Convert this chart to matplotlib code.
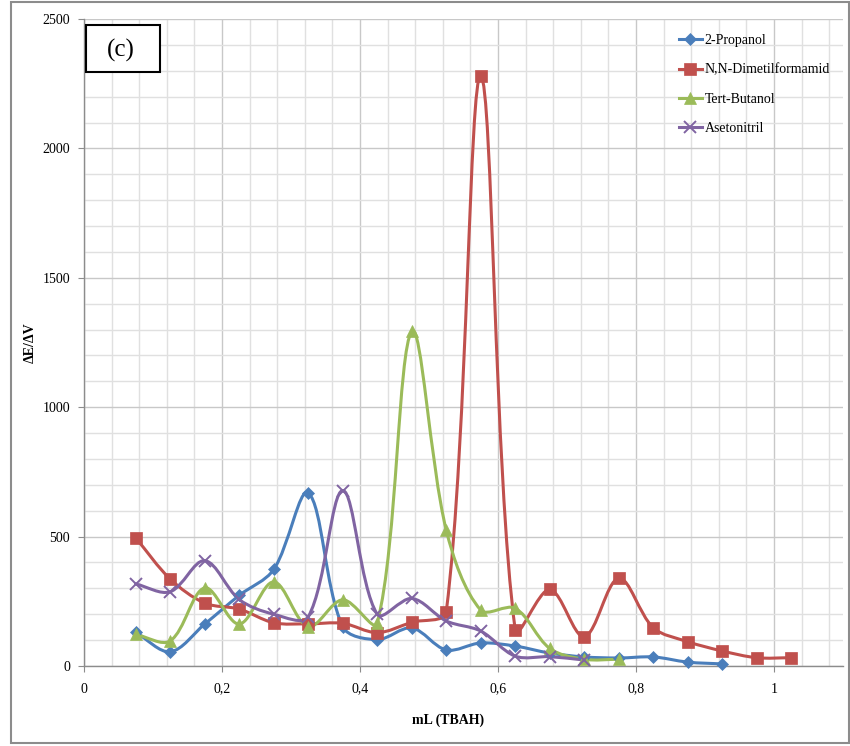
import matplotlib
matplotlib.use("Agg")
import matplotlib.pyplot as plt
import numpy as np
from matplotlib.path import Path
from matplotlib.patches import PathPatch, Rectangle
from matplotlib.lines import Line2D
from matplotlib.ticker import MultipleLocator, FuncFormatter

plt.rcParams.update({
    'font.family': 'serif',
    'font.serif': ['Liberation Serif', 'DejaVu Serif'],
    'font.size': 10,
})

# Values (ΔE/ΔV vs mL TBAH)
x_propanol = [0.075, 0.125, 0.175, 0.225, 0.275, 0.325, 0.375, 0.425, 0.475,
              0.525, 0.575, 0.625, 0.675, 0.725, 0.775, 0.825, 0.875, 0.925]
y_propanol = [130, 55, 162, 273, 373, 669, 152, 102, 147,
              62, 89, 77, 50, 35, 31, 35, 15, 8]

x_dmf = [0.075, 0.125, 0.175, 0.225, 0.275, 0.325, 0.375, 0.425, 0.475, 0.525,
         0.575, 0.625, 0.675, 0.725, 0.775, 0.825, 0.875, 0.925, 0.975, 1.025]
y_dmf = [495, 336, 243, 220, 167, 163, 165, 129, 169, 210,
         2280, 139, 296, 113, 339, 148, 94, 58, 32, 32]

x_tbut = [0.075, 0.125, 0.175, 0.225, 0.275, 0.325, 0.375, 0.425, 0.475,
          0.525, 0.575, 0.625, 0.675, 0.725, 0.775]
y_tbut = [122, 97, 302, 162, 325, 152, 256, 165, 1293,
          525, 216, 223, 68, 26, 26]

x_aset = [0.075, 0.125, 0.175, 0.225, 0.275, 0.325, 0.375, 0.425, 0.475,
          0.525, 0.575, 0.625, 0.675, 0.725]
y_aset = [317, 287, 407, 257, 200, 190, 678, 200, 261,
          174, 135, 38, 36, 23]

SERIES = [
    ('2-Propanol', x_propanol, y_propanol, '#4A7EBB', 'D', 6.5),
    ('N,N-Dimetilformamid', x_dmf, y_dmf, '#C0504D', 's', 8.5),
    ('Tert-Butanol', x_tbut, y_tbut, '#9BBB59', '^', 8.5),
    ('Asetonitril', x_aset, y_aset, '#8064A2', 'x', 8),
]


def smooth_path(ax, xs, ys, tension=1 / 6):
    # Excel-like smoothed line: cubic Bezier segments, control points
    # scaled by neighbouring segment lengths (in display space)
    pts = ax.transData.transform(np.column_stack([xs, ys]))
    n = len(pts)
    verts = [pts[0]]
    codes = [Path.MOVETO]
    for i in range(n - 1):
        p0 = pts[max(i - 1, 0)]
        p1 = pts[i]
        p2 = pts[i + 1]
        p3 = pts[min(i + 2, n - 1)]
        d01 = np.hypot(*(p1 - p0))
        d12 = np.hypot(*(p2 - p1))
        d23 = np.hypot(*(p3 - p2))
        f1 = 2 * tension * d12 / (d01 + d12) if d01 + d12 > 0 else 0
        f2 = 2 * tension * d12 / (d12 + d23) if d12 + d23 > 0 else 0
        c1 = p1 + (p2 - p0) * f1
        c2 = p2 - (p3 - p1) * f2
        verts += [c1, c2, p2]
        codes += [Path.CURVE4] * 3
    verts = ax.transData.inverted().transform(np.array(verts))
    return Path(verts, codes)


fig = plt.figure(figsize=(8.5, 7.46), dpi=100)
ax = fig.add_axes([84 / 850, 80 / 746, 759 / 850, 647 / 746])

ax.set_xlim(0, 1.1)
ax.set_ylim(0, 2500)

ax.xaxis.set_major_locator(MultipleLocator(0.2))
ax.xaxis.set_minor_locator(MultipleLocator(0.04))
ax.yaxis.set_major_locator(MultipleLocator(500))
ax.yaxis.set_minor_locator(MultipleLocator(100))
ax.xaxis.set_major_formatter(FuncFormatter(lambda v, p: f'{v:g}'.replace('.', ',')))

ax.grid(which='major', color='#c8c8c8', lw=1.0)
ax.grid(which='minor', color='#e0e0e0', lw=1.0)
ax.set_axisbelow(True)

for s in ['top', 'right']:
    ax.spines[s].set_visible(False)
for s in ['left', 'bottom']:
    ax.spines[s].set_color('#8c8c8c')
    ax.spines[s].set_linewidth(1.0)

ax.tick_params(which='major', direction='out', length=4, color='#8c8c8c',
               labelsize=10, pad=6)
ax.tick_params(which='minor', length=0)
ax.tick_params(axis='x', pad=8)

fig.canvas.draw()
handles = []
for label, xs, ys, col, mk, ms in SERIES:
    path = smooth_path(ax, xs, ys)
    ax.add_patch(PathPatch(path, fill=False, edgecolor=col, lw=2.2,
                           zorder=3, capstyle='round', joinstyle='round'))
    mew = 1.4 if mk == 'x' else 0.5
    ax.plot(xs, ys, linestyle='none', marker=mk, markersize=ms, color=col,
            markeredgecolor=col, markeredgewidth=mew, zorder=4, clip_on=False)
    handles.append(Line2D([], [], color=col, lw=2.2, marker=mk, markersize=ms,
                          markeredgewidth=mew, label=label))

ax.set_xlabel('mL (TBAH)', fontweight='bold', fontsize=10)
ax.xaxis.set_label_coords((448 - 84) / 759, -(714 - 666) / 647)
ax.set_ylabel('ΔE/ΔV', fontweight='bold', fontsize=10)
ax.yaxis.set_label_coords(-(84 - 37) / 759, 0.5)

fig.legend(handles=handles, loc='upper left',
           bbox_to_anchor=(679 / 850, 1 - 34 / 746),
           frameon=False, fontsize=10, labelspacing=1.18, handlelength=1.65,
           handletextpad=0.2, borderpad=0, borderaxespad=0)

# "(c)" label box
fig.patches.append(Rectangle((86 / 850, 1 - 72 / 746), 74 / 850, 47 / 746,
                             transform=fig.transFigure, fill=True,
                             facecolor='white', edgecolor='black', lw=1.5,
                             zorder=5))
fig.text(121 / 850, 1 - 50 / 746, '(c)', fontsize=18, ha='center', va='center',
         zorder=6)

# chart area border
fig.patches.append(Rectangle((11 / 850, 3 / 746), 838 / 850, 741 / 746,
                             transform=fig.transFigure, fill=False,
                             edgecolor='#8c8c8c', lw=1.5))

fig.savefig('out.png', dpi=100)
